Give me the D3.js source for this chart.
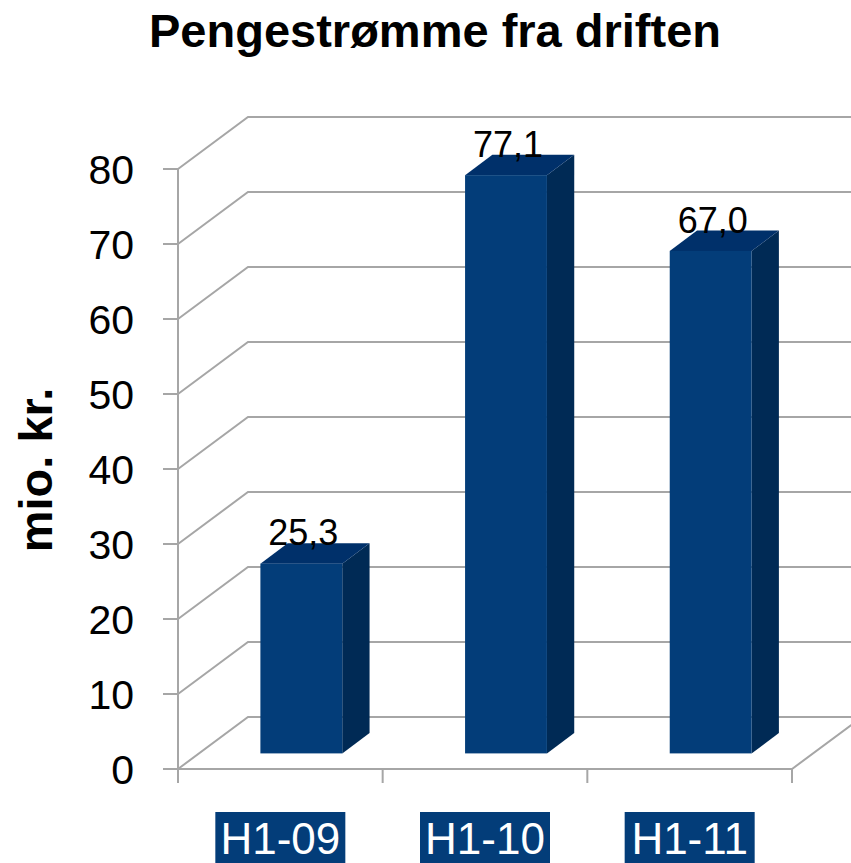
<!DOCTYPE html>
<html lang="no">
<head>
<meta charset="UTF-8" />
<title>Pengestrømme fra driften</title>
<script src="https://d3js.org/d3.v7.min.js"></script>
<style>
  html, body { margin: 0; padding: 0; background: #fff; overflow: hidden; }
  svg { display: block; font-family: "Liberation Sans", Arial, sans-serif; }
  .grid { stroke: #a6a6a6; stroke-width: 2; fill: none; }
  .tick-label { font-size: 41px; fill: #000; text-anchor: end; }
  .value { font-size: 36px; fill: #000; text-anchor: middle; }
</style>
</head>
<body>
<div id="chart"></div>
<script>
const categories = ['H1-09', 'H1-10', 'H1-11'];
const values = [25.3, 77.1, 67.0];
const valueLabels = ['25,3', '77,1', '67,0'];
const yTicks = [0, 10, 20, 30, 40, 50, 60, 70, 80];

const width = 851, height = 863;
const depth = { dx: 70, dy: -52 };          // full floor depth vector
const barFront = 0.3, barDepth = 0.39;     // fractions of the depth

const svg = d3.select("#chart").append("svg")
  .attr("width", width).attr("height", height);

const x = d3.scaleBand().domain(categories).range([178, 792]).padding(0);
const y = d3.scaleLinear().domain([0, 80]).range([769, 169]);

const x0 = x.range()[0], x1 = x.range()[1];
const far = width + 40;

// walls: gridlines on the left wall + back wall
const grid = svg.append("g");
yTicks.forEach(t => {
  grid.append("path").attr("class", "grid")
    .attr("d", `M${x0},${y(t)} L${x0 + depth.dx},${y(t) + depth.dy} L${far},${y(t) + depth.dy}`);
  grid.append("line").attr("class", "grid")
    .attr("x1", x0 - 15).attr("x2", x0).attr("y1", y(t)).attr("y2", y(t));
});

// floor
grid.append("path").attr("class", "grid")
  .attr("d", `M${x0},${y(0)} L${x1},${y(0)} L${x1 + depth.dx},${y(0) + depth.dy}`);
// front vertical axis
grid.append("line").attr("class", "grid")
  .attr("x1", x0).attr("x2", x0).attr("y1", y(80)).attr("y2", y(0));
// category ticks
[...categories.map(c => x(c)), x1].forEach(px => {
  grid.append("line").attr("class", "grid")
    .attr("x1", px).attr("x2", px).attr("y1", y(0)).attr("y2", y(0) + 14);
});

// y tick labels
svg.append("g").selectAll("text")
  .data(yTicks).enter().append("text")
  .attr("class", "tick-label")
  .attr("x", 134)
  .attr("y", d => y(d) + 15)
  .text(d => d);

// bars
const bw = x.bandwidth() * 0.4;
const fx = barFront * depth.dx, fy = barFront * depth.dy;
const bdx = barDepth * depth.dx, bdy = barDepth * depth.dy;

const bars = svg.append("g").selectAll("g")
  .data(categories.map((c, i) => ({ c, v: values[i], label: valueLabels[i] })))
  .enter().append("g");

bars.each(function(d) {
  const g = d3.select(this);
  const left = x(d.c) + (x.bandwidth() - bw) / 2 + fx;
  const right = left + bw;
  const bottom = y(0) + fy;
  const top = y(d.v) + fy;
  // side
  g.append("path").attr("fill", "#002a55")
    .attr("d", `M${right},${bottom} L${right + bdx},${bottom + bdy} L${right + bdx},${top + bdy} L${right},${top} Z`);
  // top
  g.append("path").attr("fill", "#00306a")
    .attr("d", `M${left},${top} L${left + bdx},${top + bdy} L${right + bdx},${top + bdy} L${right},${top} Z`);
  // front
  g.append("rect").attr("fill", "#033d79")
    .attr("x", left).attr("y", top).attr("width", bw).attr("height", bottom - top);
  // value label
  g.append("text").attr("class", "value")
    .attr("x", left + bw / 2 + 2)
    .attr("y", top + bdy + 2)
    .text(d.label);
});

// x category labels, white on blue boxes
const xl = svg.append("g").selectAll("g")
  .data(categories).enter().append("g");
xl.append("rect")
  .attr("x", d => x(d) + x.bandwidth() / 2 - 65)
  .attr("y", 812).attr("width", 130).attr("height", 60)
  .attr("fill", "#033d79");
xl.append("text")
  .attr("x", d => x(d) + x.bandwidth() / 2)
  .attr("y", 854)
  .attr("text-anchor", "middle")
  .attr("font-size", 44)
  .attr("fill", "#fff")
  .text(d => d);

// y axis title
svg.append("text")
  .attr("transform", "translate(52,470) rotate(-90)")
  .attr("text-anchor", "middle")
  .attr("font-size", 47)
  .attr("font-weight", "bold")
  .text("mio. kr.");

// chart title
svg.append("text")
  .attr("x", 435).attr("y", 47)
  .attr("text-anchor", "middle")
  .attr("font-size", 47)
  .attr("font-weight", "bold")
  .text("Pengestrømme fra driften");
</script>
</body>
</html>
